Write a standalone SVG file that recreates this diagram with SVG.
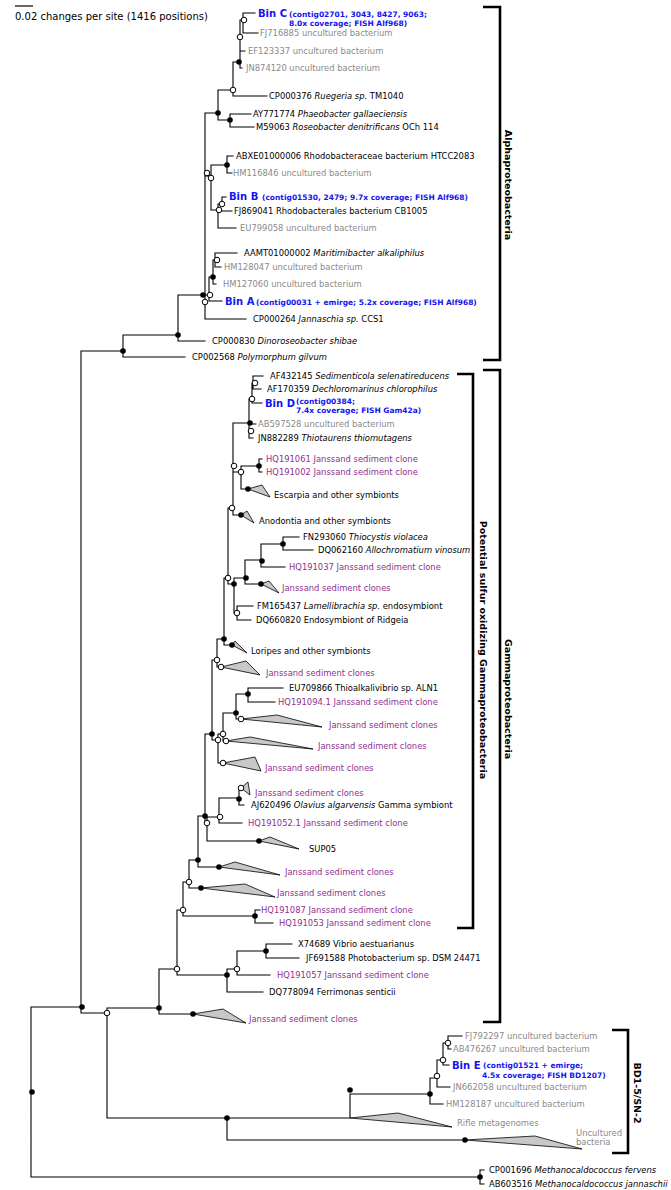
<svg xmlns="http://www.w3.org/2000/svg" width="671" height="1190" viewBox="0 0 671 1190">
<style>
.br{fill:none;stroke:#000;stroke-width:1.1;stroke-linecap:square}
.bk{fill:none;stroke:#000;stroke-width:2.6}
.f{fill:#000}
.o{fill:#fff;stroke:#000;stroke-width:1}
.tri{fill:#c8c8c8;stroke:#000;stroke-width:0.8;stroke-linejoin:miter}
text{font-family:"DejaVu Sans","Liberation Sans",sans-serif;font-size:8.4px;fill:#000;dominant-baseline:central}
.g{fill:#8a8a8a}
.p{fill:#8f2f8f}
.bn{font-weight:bold;font-size:10px;fill:#1414f0}
.bs{font-weight:bold;font-size:7.5px;fill:#1414f0}
.lab{font-weight:bold;font-size:9.5px;text-anchor:middle}
.sc{font-size:10px}
.i{font-style:italic}
</style>
<rect width="671" height="1190" fill="#fff"/>
<g id="scale">
<path d="M15 6H33" stroke="#000" stroke-width="1.2"/>
<text class="sc" x="15" y="16">0.02 changes per site (1416 positions)</text>
</g>
<g id="connectors">
<path class="br" d="M243 13V33M243 13H255M243 33H258M240 20V68M240 20H243M240 51H245M240 68H242M233 62V96M233 62H240M233 96H267M218 90V120M218 90H233M218 120H230M230 114V127M230 114H251M230 127H254M205 113V319M205 113H218M205 176H211M211 165V210M211 165H227M211 210H218M227 156V173M227 156H233M227 173H232M218 204V228M218 204H222M218 211H232M218 228H236M222 197V204M222 197H226M215 253V267M215 253H237M215 267H221M213 260V284M213 260H215M213 284H216M209 277V301M209 277H213M209 301H222M205 295H209M205 319H246M178 295H205M178 295V341M178 341H205M123 335H178M123 335V357M123 357H185M81 351H123M81 351V1013M81 1013H107"/>
<path class="br" d="M107 1008V1118M107 1008H159M107 1118H227M159 969V1014M159 969H177M159 1014H193M177 910V975M177 910H183M177 975H227M183 882V916M183 882H189M183 916H255M255 910V923M255 910H260M255 923H273M189 860V888M189 860H198M189 888H201M198 816V867M198 816H205M198 867H219M205 734V823M205 734H212M205 823H207M207 817V841M207 817H219M207 841H259M219 798V823M219 798H239M219 823H242M239 788V805M239 788H241M239 805H244M212 660V740M212 660H217M212 740H218M218 734V763M218 734H223M218 763H223M223 713V741M223 713H236M223 741H226M236 694V719M236 694H248M236 719H241M248 688V702M248 688H283M248 702H275M217 639V667M217 639H224M217 667H221M224 578V645M224 578H228M224 645H232M228 508V584M228 508H233M228 584H234M234 578V613M234 578H245M234 613H237M245 560V584M245 560H261M245 584H261M261 544V567M261 544H283M261 567H285M283 537V550M283 537H299M283 550H313M237 606V620M237 606H253M237 620H251M233 423V515M233 423H249M233 472H241M233 515H241M241 466V489M241 466H259M241 489H248M259 459V472M259 459H262M259 472H262M249 399V438M249 399H252M249 424H256M249 438H253M252 383V403M252 383H253M252 403H262M253 376V389M253 376H263M253 389H261M227 969V992M227 969H237M227 992H263M237 951V975M237 951H266M237 975H270M266 944V958M266 944H292M266 958H299"/>
<path class="br" d="M227 1118V1140M227 1118H350M227 1140H465M350 1094V1118M350 1094H430M430 1078V1104M430 1078H437M430 1104H443M437 1060V1087M437 1060H443M437 1087H450M443 1043V1065M443 1043H448M443 1065H449M448 1036V1049M448 1036H462M448 1049H451M31 1007V1177M31 1007H81M31 1177H480M480 1170V1184M480 1170H484M480 1184H484"/>
</g>
<g id="internal-nodes">
<circle class="o" cx="244" cy="20" r="2.8"/>
<circle class="o" cx="240" cy="37" r="2.8"/>
<circle class="f" cx="239" cy="62" r="2.8"/>
<circle class="o" cx="233" cy="90" r="2.8"/>
<circle class="f" cx="218" cy="113" r="2.8"/>
<circle class="f" cx="230" cy="120" r="2.8"/>
<circle class="f" cx="227" cy="165" r="2.8"/>
<circle class="o" cx="207" cy="173" r="2.8"/>
<circle class="o" cx="211" cy="178" r="2.8"/>
<circle class="o" cx="222" cy="204" r="2.8"/>
<circle class="o" cx="219" cy="210" r="2.8"/>
<circle class="o" cx="217" cy="260" r="2.8"/>
<circle class="f" cx="213" cy="277" r="2.8"/>
<circle class="f" cx="203" cy="295" r="2.8"/>
<circle class="o" cx="210" cy="295" r="2.8"/>
<circle class="o" cx="205" cy="302" r="2.8"/>
<circle class="f" cx="178" cy="335" r="2.8"/>
<circle class="f" cx="123" cy="351" r="2.8"/>
<circle class="o" cx="255" cy="383" r="2.8"/>
<circle class="o" cx="252" cy="399" r="2.8"/>
<circle class="f" cx="250" cy="423" r="2.8"/>
<circle class="o" cx="251" cy="431" r="2.8"/>
<circle class="o" cx="234" cy="466" r="2.8"/>
<circle class="o" cx="241" cy="472" r="2.8"/>
<circle class="f" cx="259" cy="466" r="2.8"/>
<circle class="o" cx="232" cy="508" r="2.8"/>
<circle class="f" cx="283" cy="544" r="2.8"/>
<circle class="f" cx="262" cy="561" r="2.8"/>
<circle class="f" cx="246" cy="578" r="2.8"/>
<circle class="o" cx="228" cy="578" r="2.8"/>
<circle class="f" cx="234" cy="584" r="2.8"/>
<circle class="o" cx="237" cy="613" r="2.8"/>
<circle class="f" cx="224" cy="639" r="2.8"/>
<circle class="o" cx="217" cy="660" r="2.8"/>
<circle class="f" cx="248" cy="694" r="2.8"/>
<circle class="f" cx="236" cy="713" r="2.8"/>
<circle class="o" cx="223" cy="734" r="2.8"/>
<circle class="f" cx="212" cy="734" r="2.8"/>
<circle class="o" cx="218" cy="740" r="2.8"/>
<circle class="f" cx="239" cy="799" r="2.8"/>
<circle class="o" cx="220" cy="817" r="2.8"/>
<circle class="f" cx="205" cy="816" r="2.8"/>
<circle class="o" cx="207" cy="823" r="2.8"/>
<circle class="f" cx="198" cy="860" r="2.8"/>
<circle class="o" cx="189" cy="882" r="2.8"/>
<circle class="o" cx="183" cy="910" r="2.8"/>
<circle class="f" cx="255" cy="916" r="2.8"/>
<circle class="f" cx="266" cy="951" r="2.8"/>
<circle class="o" cx="237" cy="969" r="2.8"/>
<circle class="f" cx="227" cy="975" r="2.8"/>
<circle class="o" cx="177" cy="969" r="2.8"/>
<circle class="f" cx="159" cy="1008" r="2.8"/>
<circle class="o" cx="107" cy="1013" r="2.8"/>
<circle class="f" cx="82" cy="1007" r="2.8"/>
<circle class="f" cx="32" cy="1092" r="2.8"/>
<circle class="o" cx="448" cy="1043" r="2.8"/>
<circle class="o" cx="443" cy="1060" r="2.8"/>
<circle class="o" cx="437" cy="1076" r="2.8"/>
<circle class="f" cx="430" cy="1094" r="2.8"/>
<circle class="f" cx="350" cy="1090" r="2.8"/>
<circle class="f" cx="227" cy="1118" r="2.8"/>
<circle class="f" cx="480" cy="1177" r="2.8"/>
</g>
<g id="leaf-binC"><text class="bn" x="258" y="13">Bin C</text><text class="bs" x="289" y="14">(contig02701, 3043, 8427, 9063;</text><text class="bs" x="289" y="23">8.0x coverage; FISH Alf968)</text></g>
<g id="leaf-FJ716885"><text class="g" x="260" y="33">FJ716885 uncultured bacterium</text></g>
<g id="leaf-EF123337"><text class="g" x="248" y="51">EF123337 uncultured bacterium</text></g>
<g id="leaf-JN874120"><text class="g" x="246" y="68">JN874120 uncultured bacterium</text></g>
<g id="leaf-CP000376"><text x="269" y="96">CP000376 <tspan class="i">Ruegeria sp.</tspan> TM1040</text></g>
<g id="leaf-AY771774"><text x="253" y="114">AY771774 <tspan class="i">Phaeobacter gallaeciensis</tspan></text></g>
<g id="leaf-M59063"><text x="256" y="127">M59063 <tspan class="i">Roseobacter denitrificans</tspan> OCh 114</text></g>
<g id="leaf-ABXE01000006"><text x="236" y="156">ABXE01000006 Rhodobacteraceae bacterium HTCC2083</text></g>
<g id="leaf-HM116846"><text class="g" x="233" y="173">HM116846 uncultured bacterium</text></g>
<g id="leaf-binB"><text class="bn" x="229" y="196">Bin B</text><text class="bs" x="262" y="197">(contig01530, 2479; 9.7x coverage; FISH Alf968)</text></g>
<g id="leaf-FJ869041"><text x="234" y="211">FJ869041 Rhodobacterales bacterium CB1005</text></g>
<g id="leaf-EU799058"><text class="g" x="240" y="228">EU799058 uncultured bacterium</text></g>
<g id="leaf-AAMT01000002"><text x="244" y="253">AAMT01000002 <tspan class="i">Maritimibacter alkaliphilus</tspan></text></g>
<g id="leaf-HM128047"><text class="g" x="224" y="267">HM128047 uncultured bacterium</text></g>
<g id="leaf-HM127060"><text class="g" x="223" y="284">HM127060 uncultured bacterium</text></g>
<g id="leaf-binA"><text class="bn" x="225" y="301">Bin A</text><text class="bs" x="256" y="302">(contig00031 + emirge; 5.2x coverage; FISH Alf968)</text></g>
<g id="leaf-CP000264"><text x="253" y="319">CP000264 <tspan class="i">Jannaschia sp.</tspan> CCS1</text></g>
<g id="leaf-CP000830"><text x="212" y="341">CP000830 <tspan class="i">Dinoroseobacter shibae</tspan></text></g>
<g id="leaf-CP002568"><text x="192" y="357">CP002568 <tspan class="i">Polymorphum gilvum</tspan></text></g>
<g id="leaf-AF432145"><text x="270" y="376">AF432145 <tspan class="i">Sedimenticola selenatireducens</tspan></text></g>
<g id="leaf-AF170359"><text x="267" y="389">AF170359 <tspan class="i">Dechloromarinus chlorophilus</tspan></text></g>
<g id="leaf-binD"><text class="bn" x="265" y="403">Bin D</text><text class="bs" x="296" y="401">(contig00384;</text><text class="bs" x="296" y="410">7.4x coverage; FISH Gam42a)</text></g>
<g id="leaf-AB597528"><text class="g" x="258" y="424">AB597528 uncultured bacterium</text></g>
<g id="leaf-JN882289"><text x="258" y="438">JN882289 <tspan class="i">Thiotaurens thiomutagens</tspan></text></g>
<g id="leaf-HQ191061"><text class="p" x="266" y="459">HQ191061 Janssand sediment clone</text></g>
<g id="leaf-HQ191002"><text class="p" x="266" y="472">HQ191002 Janssand sediment clone</text></g>
<g id="clade-escarpia"><polygon class="tri" points="248,489 262,485 270,497"/><circle class="f" cx="248" cy="489" r="2.8"/><text x="274" y="495">Escarpia and other symbionts</text></g>
<g id="clade-anodontia"><polygon class="tri" points="241,515 247,511 254,523"/><circle class="f" cx="241" cy="515" r="2.8"/><text x="259" y="521">Anodontia and other symbionts</text></g>
<g id="leaf-FN293060"><text x="303" y="537">FN293060 <tspan class="i">Thiocystis violacea</tspan></text></g>
<g id="leaf-DQ062160"><text x="318" y="550">DQ062160 <tspan class="i">Allochromatium vinosum</tspan></text></g>
<g id="leaf-HQ191037"><text class="p" x="289" y="567">HQ191037 Janssand sediment clone</text></g>
<g id="clade-janssand-588"><polygon class="tri" points="261,584 269,581 279,593"/><circle class="f" cx="261" cy="584" r="2.8"/><text class="p" x="282" y="588">Janssand sediment clones</text></g>
<g id="leaf-FM165437"><text x="257" y="606">FM165437 <tspan class="i">Lamellibrachia sp.</tspan> endosymbiont</text></g>
<g id="leaf-DQ660820"><text x="256" y="620">DQ660820 Endosymbiont of Ridgeia</text></g>
<g id="clade-loripes"><polygon class="tri" points="232,645 235,641 247,653"/><circle class="f" cx="232" cy="645" r="2.8"/><text x="251" y="651">Loripes and other symbionts</text></g>
<g id="clade-janssand-673"><polygon class="tri" points="221,667 246,661 260,675"/><circle class="o" cx="221" cy="667" r="2.8"/><text class="p" x="266" y="673">Janssand sediment clones</text></g>
<g id="leaf-EU709866"><text x="289" y="688">EU709866 Thioalkalivibrio sp. ALN1</text></g>
<g id="leaf-HQ191094"><text class="p" x="278" y="702">HQ191094.1 Janssand sediment clone</text></g>
<g id="clade-janssand-725"><polygon class="tri" points="241,719 277,715 322,727"/><circle class="o" cx="241" cy="719" r="2.8"/><text class="p" x="329" y="725">Janssand sediment clones</text></g>
<g id="clade-janssand-746"><polygon class="tri" points="226,741 250,737 313,749"/><circle class="o" cx="226" cy="741" r="2.8"/><text class="p" x="318" y="746">Janssand sediment clones</text></g>
<g id="clade-janssand-768"><polygon class="tri" points="223,763 255,757 261,771"/><circle class="o" cx="223" cy="763" r="2.8"/><text class="p" x="265" y="768">Janssand sediment clones</text></g>
<g id="clade-janssand-793"><polygon class="tri" points="241,788 248,782 250,795"/><circle class="o" cx="241" cy="788" r="2.8"/><text class="p" x="255" y="793">Janssand sediment clones</text></g>
<g id="leaf-AJ620496"><text x="251" y="805">AJ620496 <tspan class="i">Olavius algarvensis</tspan> Gamma symbiont</text></g>
<g id="leaf-HQ191052"><text class="p" x="248" y="823">HQ191052.1 Janssand sediment clone</text></g>
<g id="clade-SUP05"><polygon class="tri" points="259,841 270,837 299,849"/><circle class="f" cx="259" cy="841" r="2.8"/><text x="309" y="849">SUP05</text></g>
<g id="clade-janssand-872"><polygon class="tri" points="219,867 235,862 280,875"/><circle class="f" cx="219" cy="867" r="2.8"/><text class="p" x="285" y="872">Janssand sediment clones</text></g>
<g id="clade-janssand-893"><polygon class="tri" points="201,888 245,884 275,897"/><circle class="f" cx="201" cy="888" r="2.8"/><text class="p" x="277" y="893">Janssand sediment clones</text></g>
<g id="leaf-HQ191087"><text class="p" x="261" y="910">HQ191087 Janssand sediment clone</text></g>
<g id="leaf-HQ191053"><text class="p" x="279" y="923">HQ191053 Janssand sediment clone</text></g>
<g id="leaf-X74689"><text x="298" y="944">X74689 Vibrio aestuarianus</text></g>
<g id="leaf-JF691588"><text x="306" y="958">JF691588 Photobacterium sp. DSM 24471</text></g>
<g id="leaf-HQ191057"><text class="p" x="277" y="975">HQ191057 Janssand sediment clone</text></g>
<g id="leaf-DQ778094"><text x="269" y="992">DQ778094 Ferrimonas senticii</text></g>
<g id="clade-janssand-1019"><polygon class="tri" points="193,1014 223,1009 246,1023"/><circle class="f" cx="193" cy="1014" r="2.8"/><text class="p" x="249" y="1019">Janssand sediment clones</text></g>
<g id="leaf-FJ792297"><text class="g" x="465" y="1036">FJ792297 uncultured bacterium</text></g>
<g id="leaf-AB476267"><text class="g" x="453" y="1049">AB476267 uncultured bacterium</text></g>
<g id="leaf-binE"><text class="bn" x="452" y="1065">Bin E</text><text class="bs" x="483" y="1065">(contig01521 + emirge;</text><text class="bs" x="482" y="1075">4.5x coverage; FISH BD1207)</text></g>
<g id="leaf-JN662058"><text class="g" x="453" y="1087">JN662058 uncultured bacterium</text></g>
<g id="leaf-HM128187"><text class="g" x="446" y="1104">HM128187 uncultured bacterium</text></g>
<g id="clade-rifle"><polygon class="tri" points="350,1118 398,1113 452,1127"/><text class="g" x="457" y="1123">Rifle metagenomes</text></g>
<g id="clade-uncultured"><polygon class="tri" points="465,1140 535,1136 582,1149"/><circle class="f" cx="465" cy="1140" r="2.8"/><text class="g" x="576" y="1133">Uncultured</text><text class="g" x="576" y="1142">bacteria</text></g>
<g id="leaf-CP001696"><text x="489" y="1170">CP001696 <tspan class="i">Methanocaldococcus fervens</tspan></text></g>
<g id="leaf-AB603516"><text x="489" y="1184">AB603516 <tspan class="i">Methanocaldococcus jannaschii</tspan></text></g>
<g id="bracket-alpha"><path class="bk" d="M483 7H500V360H483"/><text class="lab" transform="translate(508 185) rotate(90)">Alphaproteobacteria</text></g>
<g id="bracket-gamma"><path class="bk" d="M483 370H500V1022H483"/><text class="lab" transform="translate(508 699) rotate(90)">Gammaproteobacteria</text></g>
<g id="bracket-sulfur"><path class="bk" d="M457 374H473V928H457"/><text class="lab" transform="translate(483 650) rotate(90)">Potential sulfur oxidizing Gammaproteobacteria</text></g>
<g id="bracket-bd1"><path class="bk" d="M612 1030H628V1153H612"/><text class="lab" transform="translate(637 1093) rotate(90)">BD1-5/SN-2</text></g>
</svg>
